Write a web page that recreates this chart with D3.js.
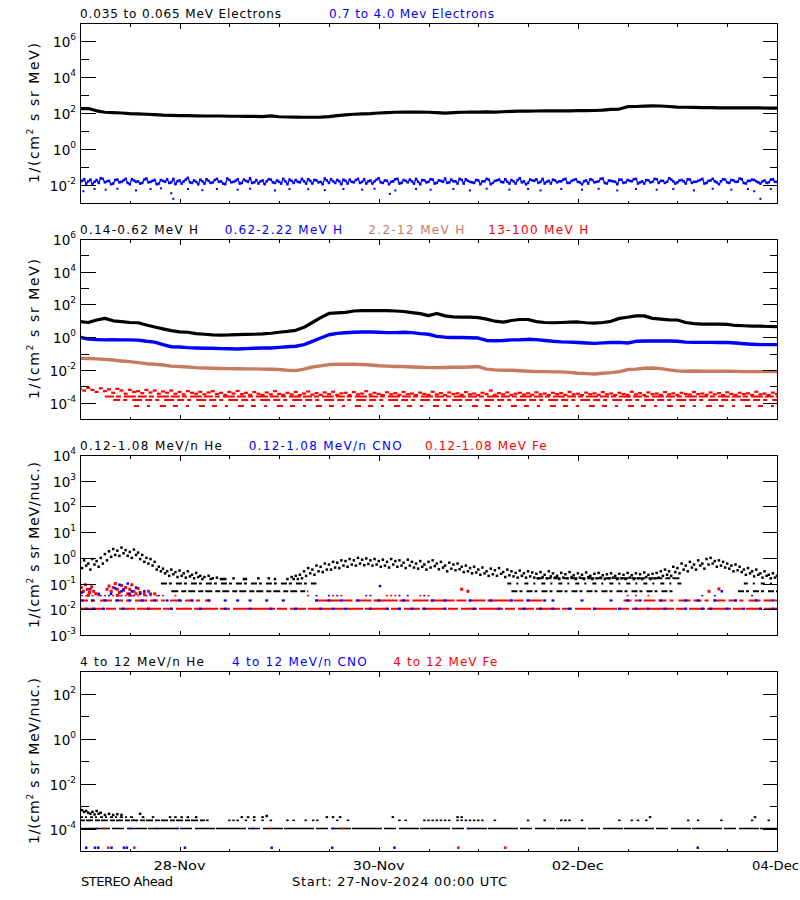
<!DOCTYPE html>
<html><head><meta charset="utf-8">
<script src="https://cdn.jsdelivr.net/npm/d3@7"></script>
<style>body{margin:0;background:#fff}svg{display:block}text{font-family:"DejaVu Sans",sans-serif}</style>
</head><body><svg id="c" width="800" height="900"></svg>
<script>
// ---------------- DATA ----------------
// time axis: hours since 27-Nov-2024 00:00 UTC
const xTickHours = [24, 72, 120, 168];
const xTickLabels = ["28-Nov", "30-Nov", "02-Dec", "04-Dec"];
const xMinorHours = [12, 36, 48, 60, 84, 96, 108, 132, 144, 156];

// panel titles
const p1Titles = ["0.035 to 0.065 MeV Electrons", "0.7 to 4.0 Mev Electrons"];
const p2Titles = ["0.14-0.62 MeV H", "0.62-2.22 MeV H", "2.2-12 MeV H", "13-100 MeV H"];
const p3Titles = ["0.12-1.08 MeV/n He", "0.12-1.08 MeV/n CNO", "0.12-1.08 MeV Fe"];
const p4Titles = ["4 to 12 MeV/n He", "4 to 12 MeV/n CNO", "4 to 12 MeV Fe"];
const footLeft = "STEREO Ahead";
const footStart = "Start: 27-Nov-2024 00:00 UTC";

// y tick exponents
const p1Major = [6, 4, 2, 0, -2], p1Minor = [5, 3, 1, -1];
const p2Major = [6, 4, 2, 0, -2, -4], p2Minor = [5, 3, 1, -1, -3];
const p3Major = [4, 3, 2, 1, 0, -1, -2, -3], p3Minor = [];
const p4Major = [2, 0, -2, -4], p4Minor = [1, -1, -3];

// Panel 1: 0.035-0.065 MeV electrons, 2-hour samples
const e1Low = [174,178,132,110,105,100,93,89,85,81,76,74,72,71,69,68,68,68,66,66,65,65,63,69,62,60,59,58,58,59,63,71,79,85,89,93,100,105,110,112,112,112,110,105,98,105,110,112,112,115,112,117,123,126,126,129,132,132,132,132,135,135,138,145,158,166,224,229,240,251,245,229,214,209,204,200,200,195,195,195,191,191,191,186,186];
// Panel 1: 0.7-4.0 MeV electrons, hourly samples
const e1High = [0.013,0.021,0.016,0.011,0.019,0.024,0.014,0.017,0.012,0.02,0.015,0.022,0.011,0.018,0.016,0.013,0.023,0.015,0.019,0.012,0.017,0.021,0.014,0.011,0.018,0.016,0.025,0.013,0.015,0.02,0.012,0.017,0.014,0.022,0.016,0.011,0.019,0.015,0.021,0.013,0.017,0.024,0.014,0.012,0.018,0.016,0.02,0.013,0.015,0.022,0.011,0.017,0.019,0.014,0.016,0.021,0.012,0.018,0.015,0.023,0.013,0.016,0.019,0.011,0.017,0.02,0.014,0.022,0.015,0.012,0.018,0.016,0.024,0.013,0.017,0.015,0.021,0.012,0.019,0.014,0.016,0.022,0.011,0.018,0.015,0.02,0.013,0.017,0.023,0.014,0.016,0.012,0.019,0.021,0.015,0.013,0.018,0.016,0.022,0.011,0.017,0.02,0.014,0.015,0.019,0.012,0.024,0.016,0.013,0.018,0.021,0.015,0.012,0.017,0.02,0.014,0.016,0.022,0.013,0.019,0.015,0.011,0.018,0.021,0.014,0.016,0.023,0.012,0.017,0.015,0.02,0.013,0.019,0.016,0.022,0.014,0.012,0.018,0.015,0.021,0.017,0.013,0.024,0.016,0.014,0.019,0.012,0.02,0.015,0.017,0.022,0.013,0.018,0.016,0.011,0.021,0.014,0.019,0.015,0.023,0.013,0.017,0.02,0.016,0.012,0.018,0.014,0.021,0.015];
// second (half-hour offset) samples of the 0.7-4.0 MeV channel
const e1HighB = [0.017,0.012,0.02,0.015,0.013,0.022,0.016,0.011,0.019,0.014,0.018,0.013,0.021,0.015,0.012,0.02,0.014,0.017,0.011,0.019,0.015,0.013,0.022,0.016,0.012,0.02,0.014,0.018,0.011,0.016,0.021,0.013,0.019,0.015,0.012,0.023,0.014,0.017,0.012,0.02,0.015,0.013,0.019,0.016,0.011,0.021,0.014,0.018,0.012,0.016,0.02,0.013,0.015,0.022,0.012,0.017,0.019,0.014,0.011,0.018,0.021,0.013,0.016,0.02,0.012,0.015,0.019,0.013,0.021,0.016,0.012,0.02,0.014,0.018,0.011,0.016,0.022,0.013,0.017,0.02,0.012,0.015,0.019,0.014,0.021,0.012,0.018,0.015,0.013,0.02,0.016,0.022,0.012,0.017,0.014,0.019,0.011,0.016,0.02,0.013,0.018,0.015,0.021,0.012,0.016,0.019,0.014,0.011,0.02,0.017,0.013,0.022,0.015,0.012,0.018,0.016,0.02,0.013,0.017,0.021,0.014,0.016,0.012,0.019,0.015,0.022,0.013,0.018,0.016,0.011,0.02,0.014,0.017,0.021,0.012,0.016,0.019,0.014,0.022,0.013,0.017,0.015,0.02,0.012,0.018,0.016,0.021,0.013,0.015,0.019,0.012,0.017,0.022,0.014,0.016,0.02,0.013,0.018,0.015,0.021,0.012,0.017,0.019,0.014,0.016,0.013,0.02,0.015];
const e1HighOutliers = [[0.8,0.0045],[3.5,0.006],[6.2,0.0055],[9,0.0062],[13.5,0.005],[17,0.006],[19.5,0.0065],[22,0.0035],[22.5,0.0017],[26,0.006],[29.5,0.0052],[33,0.006],[38,0.0055],[41,0.0062],[47,0.005],[50.5,0.006],[55,0.0058],[59,0.0052],[63.5,0.006],[68,0.0055],[71,0.0062],[74.7,0.0032],[76,0.005],[81,0.006],[84.5,0.0055],[90,0.006],[94,0.005],[98,0.0062],[103.5,0.0055],[108,0.006],[111,0.005],[116,0.006],[121,0.0055],[125,0.0062],[129.5,0.005],[134,0.006],[139,0.0055],[143,0.006],[148,0.005],[152.5,0.0062],[157,0.0055],[161,0.006],[162.5,0.0045],[164,0.0017],[166.5,0.006]];

// Panel 2: protons, 2-hour samples
const h1 = [8.9,7.9,11.2,14.1,10,8.9,7.9,7.6,5.6,4.2,3.2,2.5,2.1,2.0,1.66,1.51,1.38,1.35,1.38,1.45,1.48,1.51,1.58,1.74,2.0,2.24,2.63,4.0,7.9,15.8,28.2,30.2,33.1,39.8,41.7,41.7,41.7,41.7,39.8,37.2,31.6,27.5,20.9,28.2,20,17.4,17,16.6,15.8,12.6,9.5,8.3,10.5,12,12,8.9,7.9,7.6,7.9,8.3,8.5,7.6,7.2,7.9,9.3,14.1,16.6,20,20,14.1,12.6,11.5,11.2,7.9,6.8,6.3,6.3,6.3,6.0,5.2,5.0,4.8,4.7,4.5,4.4];
const h2 = [1.0,0.76,0.71,0.68,0.71,0.68,0.68,0.66,0.56,0.5,0.35,0.26,0.25,0.23,0.22,0.21,0.21,0.2,0.195,0.19,0.2,0.21,0.22,0.22,0.24,0.26,0.28,0.35,0.56,0.89,1.41,1.7,1.86,2.0,2.09,2.09,2.0,1.9,1.9,2.0,1.9,1.66,1.51,1.12,1.0,0.95,0.95,0.93,0.89,0.63,0.6,0.63,0.68,0.69,0.74,0.71,0.63,0.56,0.52,0.5,0.47,0.44,0.42,0.45,0.47,0.48,0.44,0.56,0.59,0.59,0.59,0.59,0.56,0.5,0.48,0.48,0.48,0.47,0.47,0.44,0.4,0.37,0.35,0.35,0.35];
const h3 = [0.052,0.05,0.047,0.044,0.04,0.035,0.032,0.028,0.024,0.022,0.02,0.017,0.016,0.015,0.0138,0.0132,0.0126,0.0123,0.012,0.0117,0.0115,0.0115,0.0112,0.011,0.0105,0.0095,0.0091,0.0112,0.0151,0.0178,0.021,0.022,0.0224,0.022,0.0214,0.02,0.018,0.017,0.016,0.016,0.0151,0.0145,0.0138,0.0138,0.0141,0.0145,0.0145,0.0151,0.016,0.0112,0.01,0.0095,0.0095,0.0089,0.0083,0.0079,0.0079,0.0076,0.0076,0.0071,0.0063,0.0059,0.0056,0.0063,0.0068,0.0079,0.0105,0.0112,0.0126,0.0132,0.012,0.01,0.0087,0.0083,0.0085,0.0083,0.0083,0.0083,0.0083,0.0081,0.0079,0.0079,0.0079,0.0079,0.0078];
// 13-100 MeV H, hourly samples
const h4 = [7e-4,5.5e-4,8e-4,6e-4,4.5e-4,7.5e-4,5e-4,6.5e-4,4e-4,7e-4,5.5e-4,3.5e-4,6e-4,4.5e-4,5e-4,3.8e-4,6e-4,4.2e-4,5.5e-4,3.5e-4,4.8e-4,4e-4,5.5e-4,3.5e-4,4.5e-4,3.2e-4,5e-4,4e-4,3.5e-4,4.6e-4,3.2e-4,4.2e-4,5e-4,3.4e-4,4e-4,3e-4,4.5e-4,3.6e-4,5.2e-4,3.3e-4,4e-4,3e-4,4.4e-4,3.5e-4,2.9e-4,4.2e-4,3.2e-4,5e-4,3.4e-4,3e-4,4e-4,3.2e-4,4.5e-4,2.9e-4,3.6e-4,4.8e-4,3.1e-4,3.8e-4,3e-4,4.2e-4,3.3e-4,4.6e-4,3e-4,3.7e-4,4e-4,2.9e-4,4.4e-4,3.2e-4,3.6e-4,5e-4,3.1e-4,4e-4,3.4e-4,2.9e-4,4.3e-4,3.2e-4,3.8e-4,3e-4,4.5e-4,3.3e-4,3.6e-4,2.9e-4,4.1e-4,3.4e-4,3e-4,4.6e-4,3.2e-4,3.8e-4,2.9e-4,4.2e-4,3.3e-4,3.7e-4,3e-4,4.4e-4,3.2e-4,3.6e-4,2.9e-4,4e-4,3.3e-4,5.5e-4,3e-4,3.8e-4,3.2e-4,4.2e-4,2.9e-4,3.5e-4,4e-4,3.1e-4,3.7e-4,3e-4,4.3e-4,3.2e-4,3.6e-4,2.9e-4,4e-4,3.3e-4,3.8e-4,3e-4,4.5e-4,3.2e-4,3.5e-4,2.9e-4,4.1e-4,3.3e-4,3.7e-4,3e-4,4.4e-4,3.2e-4,3.6e-4,2.9e-4,4e-4,3.4e-4,3e-4,4.6e-4,3.2e-4,3.8e-4,2.9e-4,4.2e-4,3.3e-4,3.6e-4,3e-4,4.4e-4,3.2e-4,3.7e-4,2.9e-4,4e-4,3.4e-4,3.1e-4,4.5e-4,3.3e-4,3.6e-4,3e-4,4.2e-4,3.2e-4,3.8e-4,2.9e-4,4.3e-4,3.4e-4,3e-4,4e-4,3.3e-4,3.7e-4,3e-4,4.6e-4,3.2e-4,3.6e-4,2.9e-4,4.1e-4,3.4e-4];
// low count-rate rows of 13-100 MeV H: [start hour, end hour, flux]
const h4Rows = [[6,168,2.4e-4],[8,168,1.45e-4],[13,168,6.3e-5]];

// Panel 3: 0.12-1.08 MeV/n He, hourly samples (upper and half-hour lower cloud)
const he3A = [0.7,0.8,0.6,0.9,0.75,1.0,1.4,1.8,2.2,1.9,2.5,2.0,1.7,2.1,1.6,1.3,1.0,0.9,0.7,0.45,0.38,0.3,0.35,0.28,0.32,0.25,0.3,0.22,0.26,0.2,0.18,0.2,0.16,0.17,0.15,0.15,null,0.16,null,null,0.15,null,null,0.16,null,null,null,0.15,null,null,0.15,0.18,0.2,0.22,0.3,0.4,0.35,0.5,0.45,0.6,0.55,0.7,0.65,0.8,0.75,0.9,0.8,1.0,0.85,0.95,0.8,0.9,0.75,0.85,0.7,0.9,0.75,0.8,0.65,0.85,0.7,0.6,0.75,0.55,0.7,0.8,0.6,0.7,0.5,0.65,0.55,0.6,0.45,0.5,0.4,0.45,0.35,0.42,0.3,0.38,0.33,0.4,0.28,0.35,0.3,0.26,0.32,0.25,0.3,0.27,0.24,0.28,0.22,0.3,0.25,0.2,0.26,0.23,0.28,0.21,0.25,0.22,0.27,0.2,0.24,0.26,0.21,0.23,0.25,0.2,0.24,0.22,0.26,0.21,0.25,0.23,0.27,0.22,0.24,0.26,0.3,0.35,0.3,0.45,0.4,0.6,0.5,0.7,0.55,0.8,0.6,0.9,1.0,0.75,0.8,0.7,0.6,0.5,0.55,0.45,0.35,0.4,0.3,0.35,0.25,0.3,0.22,0.25,0.2];
const he3B = [0.4,0.5,0.35,0.55,0.45,0.6,0.8,1.1,1.3,1.2,1.5,1.2,1.0,1.3,0.9,0.7,0.6,0.5,0.35,0.3,0.25,0.2,0.23,0.18,0.2,0.17,0.19,0.16,0.18,0.15,null,0.15,null,null,0.15,null,null,null,null,0.15,null,null,null,null,null,0.16,null,null,null,null,null,0.15,0.15,0.16,0.2,0.25,0.22,0.3,0.28,0.35,0.35,0.42,0.4,0.5,0.45,0.55,0.5,0.6,0.52,0.58,0.5,0.55,0.45,0.5,0.42,0.55,0.45,0.5,0.4,0.5,0.42,0.38,0.45,0.35,0.42,0.48,0.36,0.42,0.3,0.38,0.33,0.36,0.28,0.3,0.25,0.27,0.22,0.25,0.2,0.23,0.2,0.24,0.18,0.21,0.19,0.17,0.2,0.17,0.19,0.17,0.16,0.18,0.16,0.19,0.17,0.15,0.17,0.16,0.18,0.15,0.17,0.15,0.18,0.15,0.16,0.17,0.15,0.16,0.17,0.15,0.16,0.15,0.17,0.15,0.16,0.15,0.18,0.15,0.16,0.17,0.2,0.22,0.2,0.28,0.25,0.35,0.3,0.42,0.35,0.5,0.38,0.55,0.6,0.45,0.5,0.42,0.38,0.3,0.33,0.28,0.22,0.25,0.19,0.22,0.17,0.2,0.16,0.17];
const he3Rows = [[19.5,57,0.1],[22,55,0.05],[103,145,0.1],[104,143,0.05],[110,145,0.16],[160,168,0.1],[158.6,168,0.05]];
// CNO and Fe, 0.12-1.08 MeV/n
const fe3Rows = [[0,168,0.0105],[0,31.5,0.022],[57,112,0.022],[131,168,0.022]];
const cno3Level1Hours = [0,1.5,3.3,5.7,10.4,16.5,22,29,35,41,46,52,58,61,64,70,74,77,80,83,88,95,101,107,111,114,118,124,130,134,137,141,146,150,152,156,160,164,167];
const cno3Level2Hours = [0.5,3,6,9,12,15,18,21,24,27,31,35,38,41,45,49,57,60,63,67,72,78,85,88,94,99,104,108,112,114,121,128,132,135,140,146,149,153,158,163,167];
const fe3Level3Hours = [0.5,1.5,3,4.5,6,8,9.5,11,12.5,14,15.5,17,18.5,20,23,55,61,63,74,75,76,82,84,132,134,137];
const cno3Level3Hours = [2,5,7,10,13,16,19,57,60,62,69,70,77,79,83,150,153,162];
const p3Levels = [0.0105, 0.022, 0.034];
const fe3Cluster = [[0.3,0.07],[0.8,0.05],[1.3,0.09],[1.8,0.06],[2.3,0.045],[2.8,0.075],[3.3,0.05],[3.8,0.04],[2,0.035],[6.5,0.06],[7,0.08],[7.5,0.05],[8,0.07],[8.5,0.1],[9,0.06],[9.5,0.045],[10,0.085],[10.5,0.055],[11,0.07],[11.5,0.04],[12,0.06],[12.5,0.09],[13,0.05],[13.5,0.04],[14,0.065],[14.5,0.045],[15.5,0.04],[16.5,0.05],[18,0.04],[9,0.035],[12,0.035],[92,0.06],[93.5,0.05],[151.6,0.05],[154,0.062]];
const cno3Cluster = [[0.5,0.045],[2.5,0.06],[4.5,0.04],[7.5,0.04],[8.5,0.065],[9.5,0.09],[10.5,0.06],[11.5,0.1],[12.5,0.05],[13.5,0.07],[14.5,0.04],[15.5,0.05],[17,0.04],[10,0.05],[12,0.04],[72.3,0.08],[154.7,0.05]];

// Panel 4: 4-12 MeV/n
const he4Rows = [[0,168,1e-4],[0,31,2.3e-4],[0,13,3.2e-4]];
const he4Cluster = [[0,8e-4],[0.5,6.5e-4],[1,5.5e-4],[1.5,6e-4],[2,5e-4],[2.5,4.5e-4],[3,5.5e-4],[3.5,4.2e-4],[4,6e-4],[4.5,4.5e-4],[5,5e-4],[6,4e-4],[7,4.5e-4],[8,4e-4],[9,4.3e-4],[10,4e-4],[14.5,4.5e-4],[45,3.6e-4]];
const he4Level2Hours = [36,37,38,40,42,44,46,50,51.5,54.4,56.2,57.2,62,64.6,77,78.5,83,84,85,86,87,88,89,91,92,93,94,95,96,97,100,108,112,116,117,118,121,130,133,134.5,136.5,146.6,149,154.6,162,166];
const he4Level3Hours = [15.2,17.6,21.7,23,24.5,26,28,39,40.5,42,44,59.5,61,62.7,75.4,91,92,137.4,162.7];
const he4Levels = [2.3e-4, 3.2e-4];
const cno4LowHours = [1.5,3.6,4.4,7.6,10.6,11.3,25.3,46.2,60.8,75.8,148.9];
const fe4LowHours = [6.8,13.1,91.2,102.5];
const cno4RowHours = [4,12,18.5,23.6,41.7,61,93.5];
const fe4RowHours = [5.8,45.6,63.4];
const p4Levels = [1.4e-5, 1e-4];

// ---------------- DRAWING ----------------
const BLUE = "#0000ff", RED = "#ff0000", BROWN = "#c87a5e";
const svg = d3.select("#c");
svg.append("rect").attr("width", 800).attr("height", 900).attr("fill", "#fff");
const L = 80, R = 777, H = 180;
const x = d3.scaleLinear().domain([0, 168]).range([L, R]);

const panelsCfg = [
  {id: 1, top: 23, dom: [1e-3, 1e7], major: p1Major, minor: p1Minor, titles: p1Titles, colors: ["#000", BLUE], tx: [[80,201],[329,165]], unit: "MeV)", tlen: 140},
  {id: 2, top: 239, dom: [1e-5, 1e6], major: p2Major, minor: p2Minor, titles: p2Titles, colors: ["#000", BLUE, BROWN, RED], tx: [[80,118],[224.7,117.3],[368.3,96],[488.3,100]], unit: "MeV)", tlen: 140},
  {id: 3, top: 455, dom: [1e-3, 1e4], major: p3Major, minor: p3Minor, titles: p3Titles, colors: ["#000", BLUE, RED], tx: [[80,142],[248.7,153],[425,121.7]], unit: "MeV/nuc.)", tlen: 166},
  {id: 4, top: 671, dom: [1e-5, 1e3], major: p4Major, minor: p4Minor, titles: p4Titles, colors: ["#000", BLUE, RED], tx: [[80,124],[232,134.7],[393.3,104]], unit: "MeV/nuc.)", tlen: 166}
];

const P = panelsCfg.map(cfg => {
  const y = d3.scaleLog().domain(cfg.dom).range([cfg.top + H, cfg.top]);
  svg.append("clipPath").attr("id", "clip" + cfg.id).append("rect")
    .attr("x", L).attr("y", cfg.top).attr("width", R - L).attr("height", H);
  const plot = svg.append("g").attr("clip-path", `url(#clip${cfg.id})`);
  return {cfg, y, plot};
});

function pts(arr, step, offset) { return arr.map((v, i) => ({h: i * step + (offset || 0), v})).filter(d => d.v != null); }
function drawLine(p, data, color, w) {
  p.plot.append("path").datum(data)
    .attr("d", d3.line().x(d => x(d.h)).y(d => p.y(d.v)))
    .attr("fill", "none").attr("stroke", color).attr("stroke-width", w).attr("stroke-linejoin", "round");
}
function drawDots(p, data, color, w, h) {
  p.plot.append("g").selectAll("rect").data(data).join("rect")
    .attr("x", d => x(d.h) - w / 2).attr("y", d => p.y(d.v) - h / 2)
    .attr("width", w).attr("height", h).attr("fill", color);
}
function drawRows(p, rows, color, dashes, w) {
  p.plot.append("g").selectAll("line").data(rows).join("line")
    .attr("x1", d => x(d[0])).attr("x2", d => x(d[1]))
    .attr("y1", d => p.y(d[2])).attr("y2", d => p.y(d[2]))
    .attr("stroke", color).attr("stroke-width", w)
    .attr("stroke-dasharray", (d, i) => dashes[i % dashes.length]);
}
const pairs = arr => arr.map(d => ({h: d[0], v: d[1]}));
const atLevel = (hours, lvl) => hours.map(h => ({h, v: lvl}));

// Panel 1
const e1Merged = pts(e1High, 1).concat(pts(e1HighB, 1, 0.5)).sort((a, b) => a.h - b.h);
drawLine(P[0], e1Merged, BLUE, 1.3);
drawDots(P[0], e1Merged, BLUE, 2.5, 2.5);
drawDots(P[0], pairs(e1HighOutliers), BLUE, 2, 2);
drawLine(P[0], pts(e1Low, 2), "#000", 3.2);

// Panel 2
drawRows(P[1], h4Rows, RED, ["9,2,5,3,12,2", "7,3,4,5,10,3", "5,8,3,10,6,7"], 2);
drawDots(P[1], pts(h4, 1), RED, 4, 2.2);
drawLine(P[1], pts(h3, 2), BROWN, 3.4);
drawLine(P[1], pts(h2, 2), BLUE, 3.4);
drawLine(P[1], pts(h1, 2), "#000", 3.2);

// Panel 3
drawRows(P[2], fe3Rows, RED, ["24,2,10,3,16,2", "8,3,4,5,12,3"], 2.2);
drawDots(P[2], atLevel(cno3Level1Hours, p3Levels[0]), BLUE, 3, 2.2);
drawDots(P[2], atLevel(cno3Level2Hours, p3Levels[1]), BLUE, 3, 2.2);
drawDots(P[2], atLevel(fe3Level3Hours, p3Levels[2]), RED, 2, 1.5);
drawDots(P[2], atLevel(cno3Level3Hours, p3Levels[2]), BLUE, 2, 1.5);
drawDots(P[2], pairs(fe3Cluster), RED, 3, 3);
drawDots(P[2], pairs(cno3Cluster), BLUE, 2.5, 2.5);
drawRows(P[2], he3Rows, "#000", ["6,2,3,4", "7,3,5,2", "4,5,2,6"], 2);
drawDots(P[2], pts(he3A, 1), "#000", 2.5, 2.5);
drawDots(P[2], pts(he3B, 1, 0.5), "#000", 2.5, 2.5);

// Panel 4
drawRows(P[3], he4Rows, "#000", ["30,2,12,3,20,1", "5,1,7,2", "3,2,2,3"], 1.6);
drawDots(P[3], atLevel(he4Level2Hours, he4Levels[0]), "#000", 2.5, 1.6);
drawDots(P[3], atLevel(he4Level3Hours, he4Levels[1]), "#000", 2.5, 2);
drawDots(P[3], pairs(he4Cluster), "#000", 2.5, 2.5);
drawDots(P[3], atLevel(cno4LowHours, p4Levels[0]), BLUE, 2.5, 2.5);
drawDots(P[3], atLevel(fe4LowHours, p4Levels[0]), RED, 2.5, 2.5);
drawDots(P[3], atLevel(cno4RowHours, p4Levels[1]), BLUE, 2.5, 1.6);
drawDots(P[3], atLevel(fe4RowHours, p4Levels[1]), RED, 2.5, 1.6);

// Axes, frames, labels
P.forEach((p, pi) => {
  const {cfg, y} = p;
  const g = svg.append("g").attr("shape-rendering", "crispEdges");
  const majV = cfg.major.map(e => Math.pow(10, e)), minV = cfg.minor.map(e => Math.pow(10, e));
  const ax = (gen, tx, vals, len) => g.append("g").attr("transform", `translate(${tx},0)`)
    .call(gen(y).tickValues(vals).tickSize(-len).tickSizeOuter(0).tickFormat(""))
    .call(s => s.select(".domain").remove());
  ax(d3.axisLeft, L + 0.5, majV, 15); ax(d3.axisLeft, L + 0.5, minV, 8);
  ax(d3.axisRight, R + 0.5, majV, 15); ax(d3.axisRight, R + 0.5, minV, 8);
  const bottom = cfg.top + H, top = cfg.top;
  const xa = (gen, ty, vals, len) => g.append("g").attr("transform", `translate(0,${ty})`)
    .call(gen(x).tickValues(vals).tickSize(-len).tickSizeOuter(0).tickFormat(""))
    .call(s => s.select(".domain").remove());
  xa(d3.axisBottom, bottom + 0.5, xTickHours, 5); xa(d3.axisBottom, bottom + 0.5, xMinorHours, 3);
  xa(d3.axisTop, top + 0.5, xTickHours, 5); xa(d3.axisTop, top + 0.5, xMinorHours, 3);
  g.selectAll(".tick line").attr("stroke", "#000");
  g.append("rect").attr("x", L + 0.5).attr("y", top + 0.5).attr("width", R - L).attr("height", H)
    .attr("fill", "none").attr("stroke", "#000").attr("stroke-width", 1);

  // y tick labels
  cfg.major.forEach(e => {
    const t = svg.append("text").attr("x", 76).attr("y", y(Math.pow(10, e)) + 6)
      .attr("text-anchor", "end").attr("font-size", 13.5).attr("fill", "#000");
    t.append("tspan").text("10");
    t.append("tspan").attr("dy", -7).attr("font-size", 9).text(String(e));
  });

  // y title
  const yt = svg.append("text").attr("transform", `translate(39,${top + H / 2}) rotate(-90)`)
    .attr("text-anchor", "middle").attr("font-size", 14).attr("fill", "#000")
    .attr("textLength", cfg.tlen).attr("lengthAdjust", "spacing");
  yt.append("tspan").text("1/(cm");
  yt.append("tspan").attr("dy", -6).attr("font-size", 9).text("2");
  yt.append("tspan").attr("dy", 6).text(" s sr " + cfg.unit);

  // titles
  cfg.titles.forEach((s, i) => {
    svg.append("text").attr("x", cfg.tx[i][0]).attr("y", top - 5)
      .attr("font-size", 12).attr("fill", cfg.colors[i])
      .attr("textLength", cfg.tx[i][1]).attr("lengthAdjust", "spacing").text(s);
  });
});

// bottom x labels (last one kept inside the 800px width)
xTickHours.forEach((h, i) => {
  const last = i === xTickHours.length - 1;
  svg.append("text").attr("x", last ? 799 : x(h)).attr("y", 870)
    .attr("text-anchor", last ? "end" : "middle")
    .attr("font-size", 13).attr("fill", "#000").attr("textLength", last ? 47 : 52)
    .attr("lengthAdjust", "spacingAndGlyphs").text(xTickLabels[i]);
});
svg.append("text").attr("x", 81).attr("y", 886).attr("font-size", 13).attr("fill", "#000")
  .attr("textLength", 92).attr("lengthAdjust", "spacing").text(footLeft);
svg.append("text").attr("x", 292).attr("y", 886).attr("font-size", 13).attr("fill", "#000")
  .attr("textLength", 215).attr("lengthAdjust", "spacing").text(footStart);
</script></body></html>
